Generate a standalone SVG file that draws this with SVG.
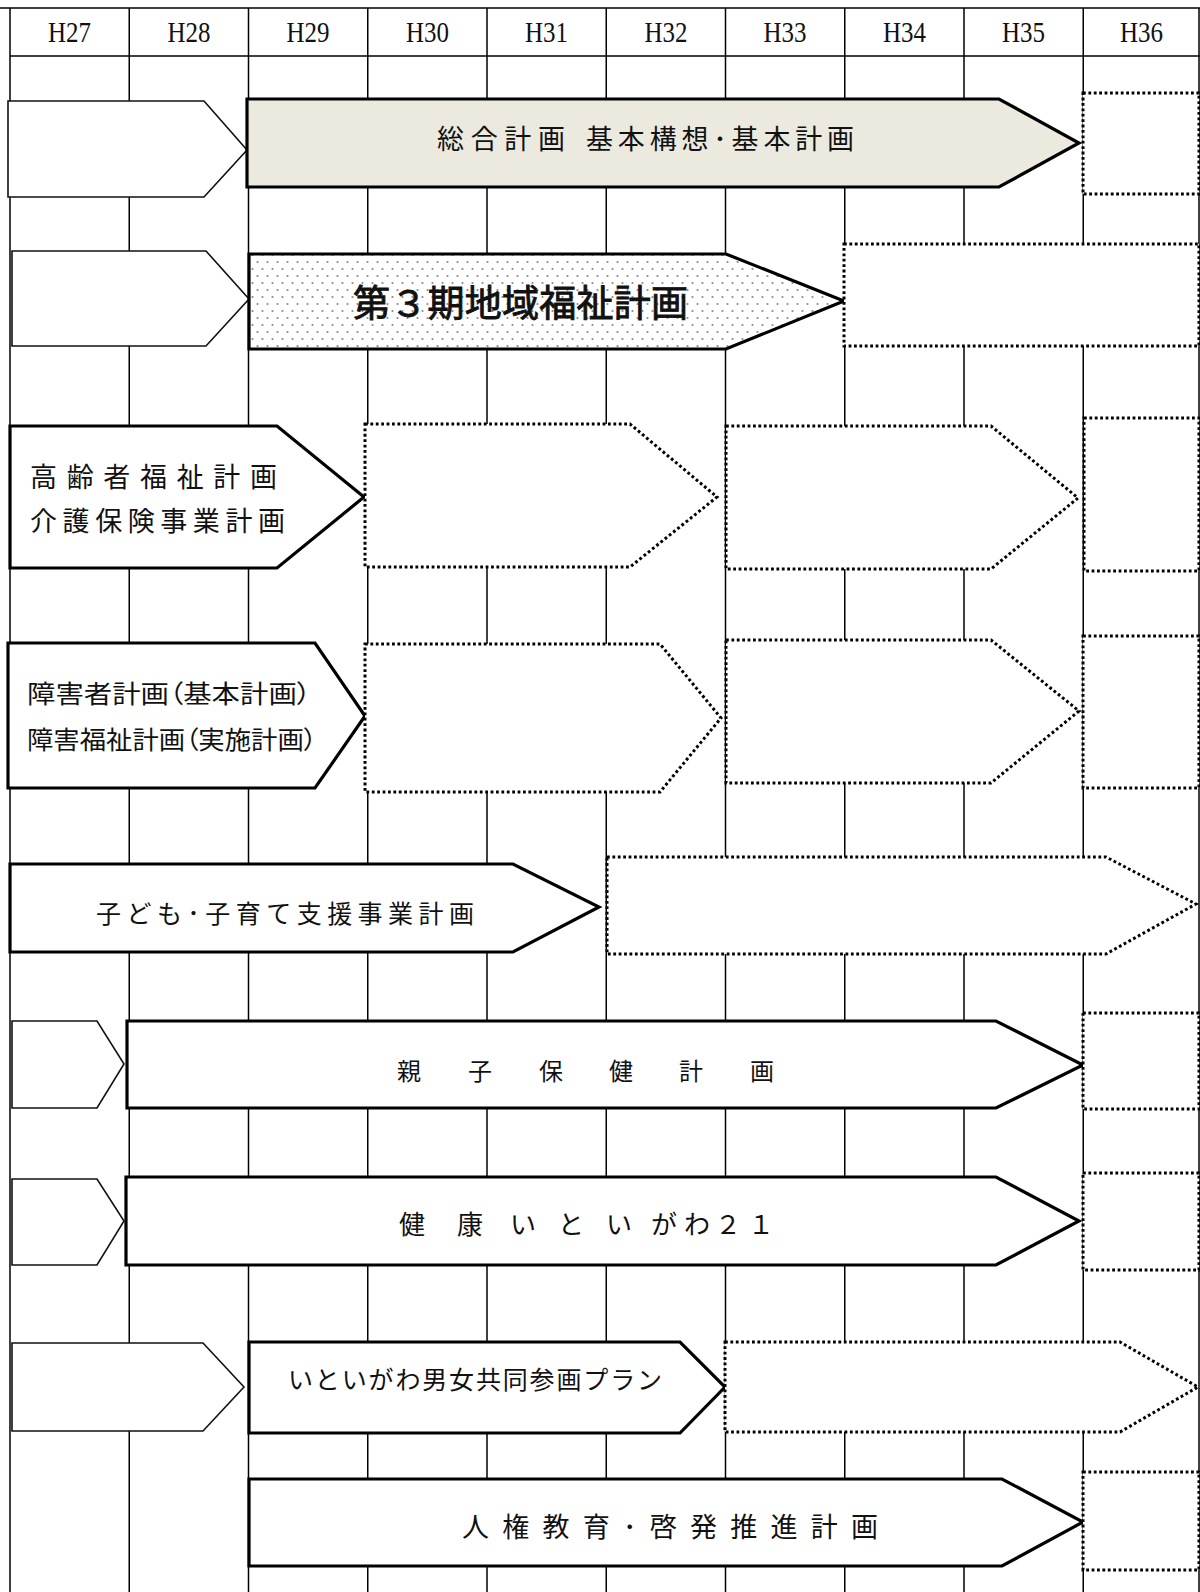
<svg xmlns="http://www.w3.org/2000/svg" width="1200" height="1592" viewBox="0 0 1200 1592">
<defs>
<pattern id="dots" width="10" height="14" patternUnits="userSpaceOnUse">
<rect width="10" height="14" fill="#ffffff"/>
<circle cx="2.5" cy="3" r="1.1" fill="#8a8a8a"/>
<circle cx="7.5" cy="10" r="1.1" fill="#8a8a8a"/>
</pattern>
</defs>
<style>
.grid{stroke:#000;stroke-width:1.5;fill:none}
.hdr{font-family:"Liberation Serif","DejaVu Serif",serif;font-size:29px;fill:#111;text-anchor:middle}
.thin{fill:#fff;stroke:#111;stroke-width:1.6;stroke-linejoin:miter}
.thick{fill:#fff;stroke:#000;stroke-width:3.2;stroke-linejoin:miter}
.gray{fill:#ECE9DF;stroke:#000;stroke-width:3.2}
.dotfill{fill:url(#dots);stroke:#000;stroke-width:3.2}
.dash{fill:#fff;stroke:#000;stroke-width:3;stroke-dasharray:2.8 2.6}
.jp{font-family:"Noto Sans CJK JP","Noto Sans CJK SC",sans-serif;fill:#111;dominant-baseline:central}
.palt{font-feature-settings:"palt"}
</style>
<rect width="1200" height="1592" fill="#fff"/>
<g id="grid">
<line class="grid" x1="0" y1="8" x2="1200" y2="8"/>
<line class="grid" x1="10" y1="56" x2="1200" y2="56"/>
<line class="grid" x1="10" y1="8" x2="10" y2="1592"/>
<line class="grid" x1="129.25" y1="8" x2="129.25" y2="1592"/>
<line class="grid" x1="248.5" y1="8" x2="248.5" y2="1592"/>
<line class="grid" x1="367.75" y1="8" x2="367.75" y2="1592"/>
<line class="grid" x1="487" y1="8" x2="487" y2="1592"/>
<line class="grid" x1="606.25" y1="8" x2="606.25" y2="1592"/>
<line class="grid" x1="725.5" y1="8" x2="725.5" y2="1592"/>
<line class="grid" x1="844.75" y1="8" x2="844.75" y2="1592"/>
<line class="grid" x1="964" y1="8" x2="964" y2="1592"/>
<line class="grid" x1="1083.25" y1="8" x2="1083.25" y2="1592"/>
<line class="grid" x1="1199" y1="8" x2="1199" y2="1592"/>
<text class="hdr" x="69.6" y="42" textLength="43" lengthAdjust="spacingAndGlyphs">H27</text>
<text class="hdr" x="188.9" y="42" textLength="43" lengthAdjust="spacingAndGlyphs">H28</text>
<text class="hdr" x="308.1" y="42" textLength="43" lengthAdjust="spacingAndGlyphs">H29</text>
<text class="hdr" x="427.4" y="42" textLength="43" lengthAdjust="spacingAndGlyphs">H30</text>
<text class="hdr" x="546.6" y="42" textLength="43" lengthAdjust="spacingAndGlyphs">H31</text>
<text class="hdr" x="665.9" y="42" textLength="43" lengthAdjust="spacingAndGlyphs">H32</text>
<text class="hdr" x="785.1" y="42" textLength="43" lengthAdjust="spacingAndGlyphs">H33</text>
<text class="hdr" x="904.4" y="42" textLength="43" lengthAdjust="spacingAndGlyphs">H34</text>
<text class="hdr" x="1023.6" y="42" textLength="43" lengthAdjust="spacingAndGlyphs">H35</text>
<text class="hdr" x="1141.5" y="42" textLength="43" lengthAdjust="spacingAndGlyphs">H36</text>
</g>
<g id="connectors"></g>
<g id="nodes">
<g id="row1-prev"><polygon class="thin" points="8,101 204,101 247,150 204,197 8,197"/></g>
<g id="row1-sogo">
<polygon class="gray" points="247,99 999,99 1079,143 999,187 247,187"/>
<text class="jp" x="437" y="137" font-size="27" textLength="128" lengthAdjust="spacing">総合計画</text>
<text class="jp" x="586" y="137" font-size="27" textLength="268" lengthAdjust="spacing">基本構想･基本計画</text>
</g>
<g id="row1-next"><rect class="dash" x="1083" y="93" width="116" height="101"/></g>

<g id="row2-prev"><polygon class="thin" points="12,251 206,251 249,299 206,346 12,346"/></g>
<g id="row2-fukushi">
<polygon class="dotfill" points="249,254 726,254 844,301 726,349 249,349"/>
<text class="jp" x="353" y="301" font-size="37" stroke="#111" stroke-width="0.9" textLength="335" lengthAdjust="spacing">第３期地域福祉計画</text>
</g>
<g id="row2-next"><rect class="dash" x="844" y="244" width="355" height="102"/></g>

<g id="row3-koureisha">
<polygon class="thick" points="10,426 277,426 364,497 277,568 10,568"/>
<text class="jp" x="30" y="475" font-size="27" textLength="247" lengthAdjust="spacing">高齢者福祉計画</text>
<text class="jp" x="30" y="519" font-size="27" textLength="255" lengthAdjust="spacing">介護保険事業計画</text>
</g>
<g id="row3-next1"><polygon class="dash" points="365,424 630,424 717,497 630,567 365,567"/></g>
<g id="row3-next2"><polygon class="dash" points="726,426 991,426 1078,498 991,569 726,569"/></g>
<g id="row3-next3"><rect class="dash" x="1084" y="418" width="115" height="153"/></g>

<g id="row4-shougai">
<polygon class="thick" points="8,643 315,643 365,716 315,788 8,788"/>
<text class="jp palt" x="27" y="692" font-size="25" textLength="284" lengthAdjust="spacingAndGlyphs">障害者計画（基本計画）</text>
<text class="jp palt" x="27" y="738" font-size="25" textLength="290" lengthAdjust="spacingAndGlyphs">障害福祉計画（実施計画）</text>
</g>
<g id="row4-next1"><polygon class="dash" points="365,644 660,644 721,718 660,792 365,792"/></g>
<g id="row4-next2"><polygon class="dash" points="726,640 991,640 1079,711 991,783 726,783"/></g>
<g id="row4-next3"><rect class="dash" x="1083" y="636" width="116" height="152"/></g>

<g id="row5-kodomo">
<polygon class="thick" points="10,864 513,864 599,907 513,952 10,952"/>
<text class="jp" x="96" y="912" font-size="25" textLength="378" lengthAdjust="spacing">子ども･子育て支援事業計画</text>
</g>
<g id="row5-next"><polygon class="dash" points="607,857 1106,857 1196,904 1106,954 607,954"/></g>

<g id="row6-prev"><polygon class="thin" points="12,1021 97,1021 124,1064 97,1108 12,1108"/></g>
<g id="row6-boshi">
<polygon class="thick" points="127,1021 996,1021 1083,1065 996,1108 127,1108"/>
<text class="jp" x="409 480 551 621 691 762" y="1069" font-size="24" text-anchor="middle">親子保健計画</text>
</g>
<g id="row6-next"><rect class="dash" x="1083" y="1013" width="116" height="96"/></g>

<g id="row7-prev"><polygon class="thin" points="12,1179 97,1179 124,1221 97,1265 12,1265"/></g>
<g id="row7-kenko">
<polygon class="thick" points="126,1177 996,1177 1079,1221 996,1265 126,1265"/>
<text class="jp" x="412 470 523 571 619 664 697 728 761" y="1222" font-size="26" text-anchor="middle">健康いといがわ２１</text>
</g>
<g id="row7-next"><rect class="dash" x="1083" y="1173" width="116" height="97"/></g>

<g id="row8-prev"><polygon class="thin" points="12,1343 203,1343 244,1387 203,1431 12,1431"/></g>
<g id="row8-danjo">
<polygon class="thick" points="249,1342 680,1342 725,1387 680,1433 249,1433"/>
<text class="jp" x="288" y="1378" font-size="25" textLength="374" lengthAdjust="spacing">いといがわ男女共同参画プラン</text>
</g>
<g id="row8-next"><polygon class="dash" points="725,1342 1120,1342 1198,1387 1120,1432 725,1432"/></g>

<g id="row9-jinken">
<polygon class="thick" points="249,1479 1002,1479 1083,1522 1002,1566 249,1566"/>
<text class="jp" x="462" y="1525" font-size="27" textLength="416" lengthAdjust="spacing">人権教育･啓発推進計画</text>
</g>
<g id="row9-next"><rect class="dash" x="1083" y="1472" width="116" height="98"/></g>
</g>
</svg>
